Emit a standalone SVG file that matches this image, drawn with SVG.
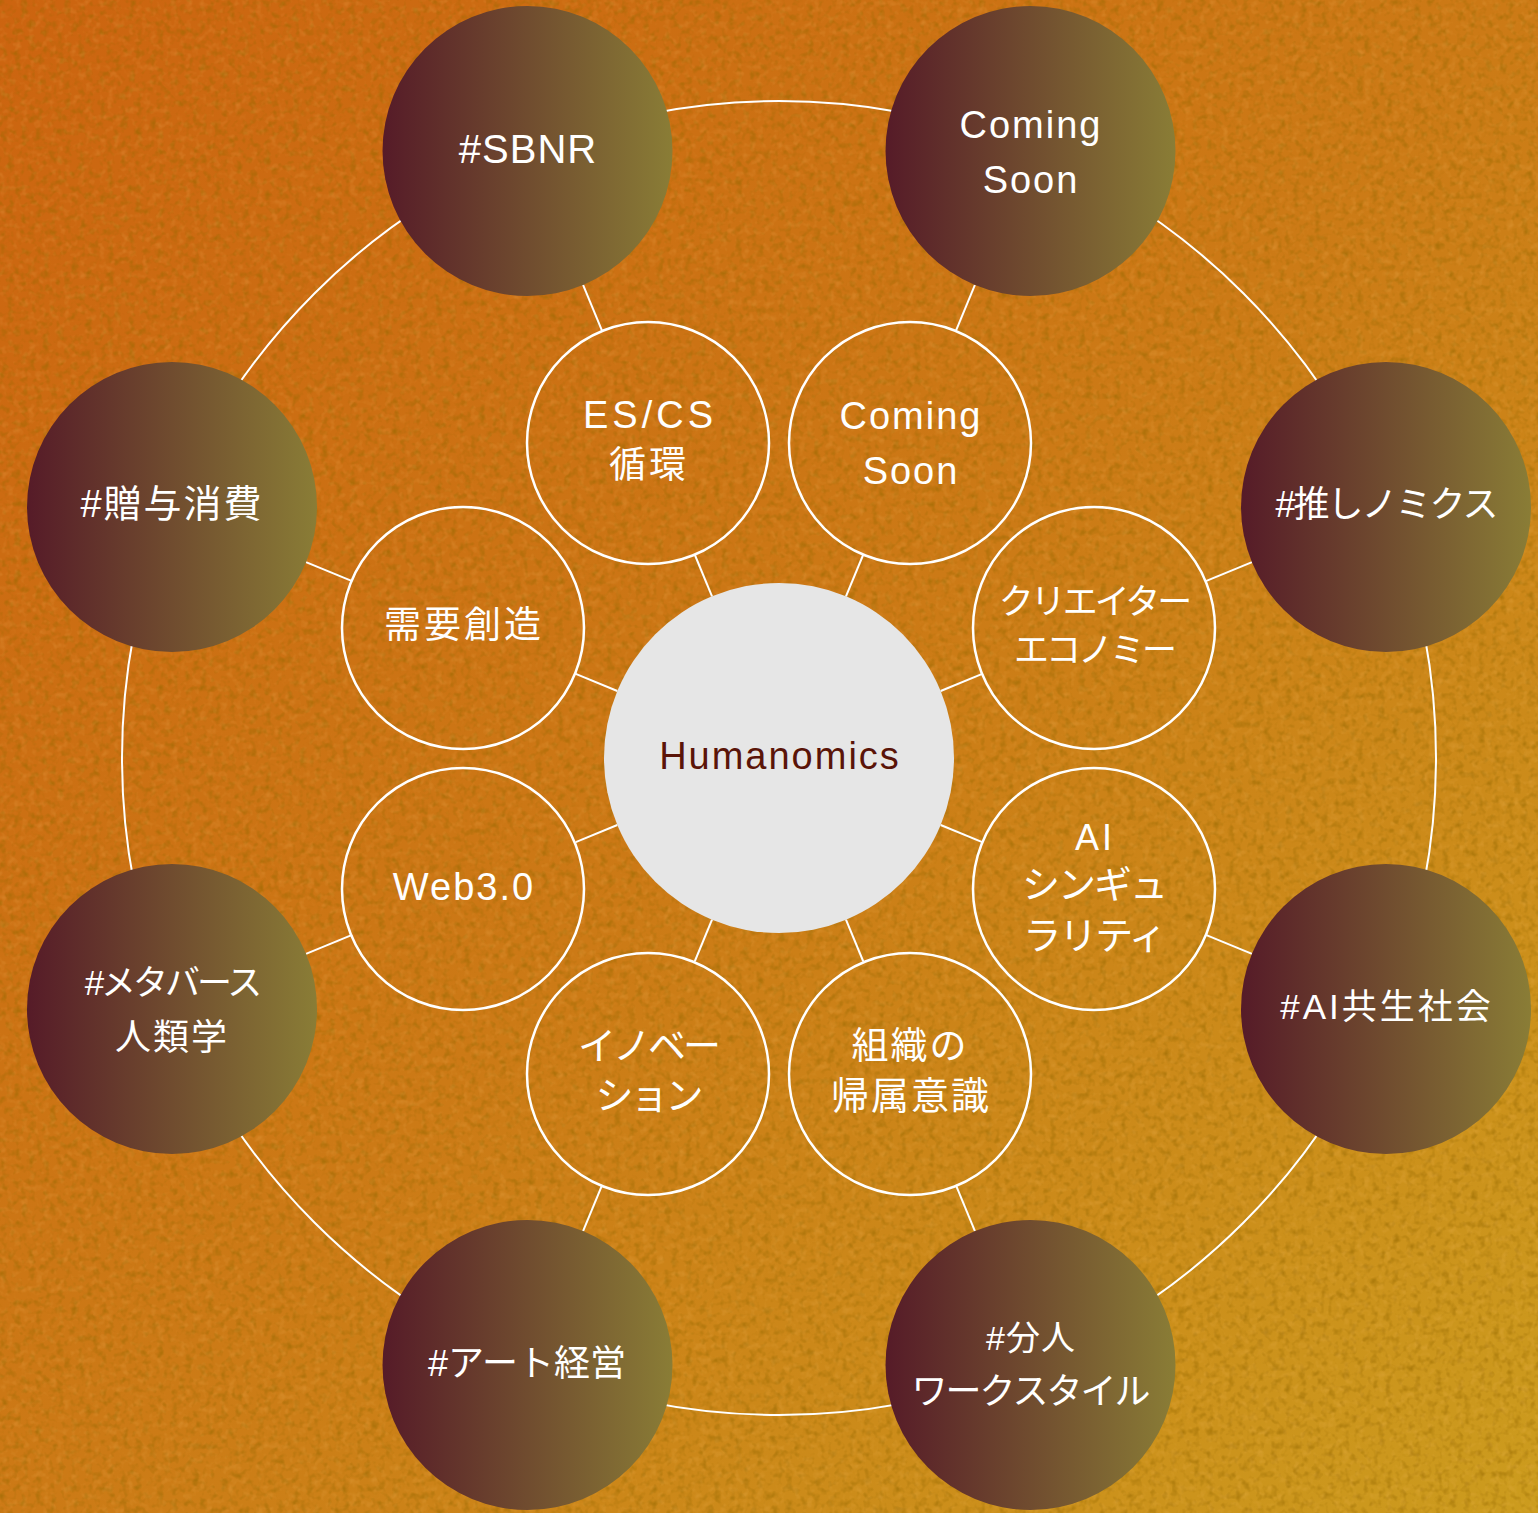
<svg xmlns="http://www.w3.org/2000/svg" width="1538" height="1513" viewBox="0 0 1538 1513">
<defs>
<linearGradient id="bg" x1="0" y1="0" x2="1538" y2="1513" gradientUnits="userSpaceOnUse">
<stop offset="0" stop-color="#cc6410"/>
<stop offset="0.5" stop-color="#cc7a16"/>
<stop offset="1" stop-color="#cc9c1e"/>
</linearGradient>
<linearGradient id="outer" x1="0" y1="0" x2="1" y2="0">
<stop offset="0" stop-color="#561b28"/>
<stop offset="1" stop-color="#8a7d36"/>
</linearGradient>
<filter id="grainDark" x="0" y="0" width="100%" height="100%">
<feTurbulence type="fractalNoise" baseFrequency="0.14" numOctaves="2" seed="4" result="n"/>
<feColorMatrix in="n" type="matrix" values="0 0 0 0 0.3  0 0 0 0 0.14  0 0 0 0 0.0  2.2 0 0 0 -1.05"/>
</filter>
<filter id="grainLight" x="0" y="0" width="100%" height="100%">
<feTurbulence type="fractalNoise" baseFrequency="0.14" numOctaves="2" seed="9" result="n"/>
<feColorMatrix in="n" type="matrix" values="0 0 0 0 1  0 0 0 0 0.55  0 0 0 0 0.15  0 2.2 0 0 -1.1"/>
</filter>
<style>
.ring{fill:none;stroke:#fff;stroke-width:2}
.conn line{stroke:#fff;stroke-width:2}
.out{fill:url(#outer)}
.inn{fill:none;stroke:#fff;stroke-width:2.5}
text{font-family:"Liberation Sans","Noto Sans CJK JP",sans-serif;fill:#fff;text-anchor:middle}
.t38{font-size:38px;letter-spacing:2px}
</style>
</defs>
<rect width="1538" height="1513" fill="url(#bg)"/>
<rect width="1538" height="1513" filter="url(#grainDark)" opacity="0.6"/>
<rect width="1538" height="1513" filter="url(#grainLight)" opacity="0.2"/>

<circle class="ring" cx="779" cy="758" r="657"/>

<g id="connectors" class="conn">
<g transform="rotate(-22.5 779 758)"><line x1="779" y1="583" x2="779" y2="538"/><line x1="779" y1="296" x2="779" y2="246"/></g>
<g transform="rotate(22.5 779 758)"><line x1="779" y1="583" x2="779" y2="538"/><line x1="779" y1="296" x2="779" y2="246"/></g>
<g transform="rotate(67.5 779 758)"><line x1="779" y1="583" x2="779" y2="538"/><line x1="779" y1="296" x2="779" y2="246"/></g>
<g transform="rotate(112.5 779 758)"><line x1="779" y1="583" x2="779" y2="538"/><line x1="779" y1="296" x2="779" y2="246"/></g>
<g transform="rotate(157.5 779 758)"><line x1="779" y1="583" x2="779" y2="538"/><line x1="779" y1="296" x2="779" y2="246"/></g>
<g transform="rotate(202.5 779 758)"><line x1="779" y1="583" x2="779" y2="538"/><line x1="779" y1="296" x2="779" y2="246"/></g>
<g transform="rotate(247.5 779 758)"><line x1="779" y1="583" x2="779" y2="538"/><line x1="779" y1="296" x2="779" y2="246"/></g>
<g transform="rotate(292.5 779 758)"><line x1="779" y1="583" x2="779" y2="538"/><line x1="779" y1="296" x2="779" y2="246"/></g>
</g>

<g id="center">
<circle cx="779" cy="758" r="175" fill="#e6e6e6"/>
<text x="780" y="769" style="font-size:38px;letter-spacing:2px;fill:#5a1408">Humanomics</text>
</g>

<g id="n-sbnr"><circle class="out" cx="527.5" cy="151" r="145"/><text x="528" y="163" style="font-size:40px;letter-spacing:1px">#SBNR</text></g>
<g id="n-soon1"><circle class="out" cx="1030.5" cy="151" r="145"/><text class="t38" x="1031" y="138">Coming</text><text class="t38" x="1031" y="193">Soon</text></g>
<g id="n-oshi"><circle class="out" cx="1386" cy="507" r="145"/><text x="1386" y="517" style="font-size:36px;letter-spacing:-2px">#推しノミクス</text></g>
<g id="n-ai"><circle class="out" cx="1386" cy="1009" r="145"/><text x="1387" y="1019" style="font-size:35px;letter-spacing:3px">#AI共生社会</text></g>
<g id="n-bunjin"><circle class="out" cx="1030.5" cy="1365" r="145"/><text x="1031" y="1350" style="font-size:34px;letter-spacing:1px">#分人</text><text x="1030" y="1404" style="font-size:36px;letter-spacing:-2px">ワークスタイル</text></g>
<g id="n-art"><circle class="out" cx="527.5" cy="1365" r="145"/><text x="527" y="1376" style="font-size:36px;letter-spacing:0px">#アート経営</text></g>
<g id="n-meta"><circle class="out" cx="172" cy="1009" r="145"/><text x="172" y="995" style="font-size:35px;letter-spacing:-3px">#メタバース</text><text x="172" y="1050" style="font-size:36px;letter-spacing:2px">人類学</text></g>
<g id="n-zoyo"><circle class="out" cx="172" cy="507" r="145"/><text x="172" y="517" style="font-size:38px;letter-spacing:2px">#贈与消費</text></g>

<g id="i-escs"><circle class="inn" cx="648" cy="443" r="121"/><text x="650" y="428" style="font-size:38px;letter-spacing:4px">ES/CS</text><text x="649" y="478" style="font-size:37px;letter-spacing:3px">循環</text></g>
<g id="i-soon2"><circle class="inn" cx="910" cy="443" r="121"/><text class="t38" x="911" y="429">Coming</text><text class="t38" x="911" y="484">Soon</text></g>
<g id="i-creator"><circle class="inn" cx="1094" cy="628" r="121"/><text x="1094" y="614" style="font-size:35px;letter-spacing:-3px">クリエイター</text><text x="1094" y="662" style="font-size:35px;letter-spacing:-3px">エコノミー</text></g>
<g id="i-singularity"><circle class="inn" cx="1094" cy="889" r="121"/><text x="1095" y="850" style="font-size:36px;letter-spacing:3px">AI</text><text x="1094" y="898" style="font-size:38px;letter-spacing:-2px">シンギュ</text><text x="1094" y="949" style="font-size:38px;letter-spacing:-2px">ラリティ</text></g>
<g id="i-soshiki"><circle class="inn" cx="910" cy="1074" r="121"/><text x="910" y="1059" style="font-size:37px;letter-spacing:2px">組織の</text><text x="911" y="1109" style="font-size:38px;letter-spacing:2px">帰属意識</text></g>
<g id="i-innovation"><circle class="inn" cx="648" cy="1074" r="121"/><text x="648" y="1059" style="font-size:38px;letter-spacing:-3px">イノベー</text><text x="648" y="1109" style="font-size:38px;letter-spacing:-3px">ション</text></g>
<g id="i-web3"><circle class="inn" cx="463" cy="889" r="121"/><text class="t38" x="464" y="900">Web3.0</text></g>
<g id="i-demand"><circle class="inn" cx="463" cy="628" r="121"/><text x="464" y="638" style="font-size:37px;letter-spacing:3px">需要創造</text></g>
</svg>
